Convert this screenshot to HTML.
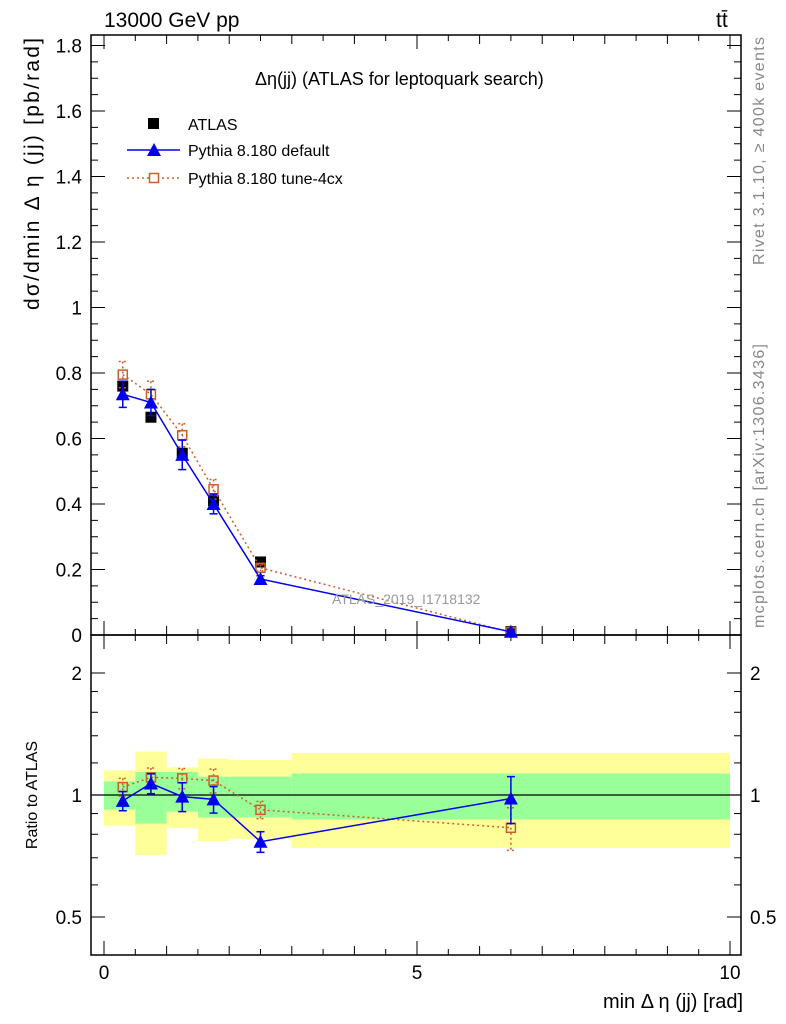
<!DOCTYPE html>
<html><head><meta charset="utf-8"><style>
body{margin:0;background:#fff}
svg{display:block;font-family:"Liberation Sans",sans-serif}
</style></head><body>
<svg id="c" width="786" height="1024" viewBox="0 0 786 1024"></svg>
<script>
const binEdges=[0,0.5,1,1.5,2,3,10];
const xCenters=[0.3,0.75,1.25,1.75,2.5,6.5];
const atlasVals=[0.76,0.665,0.555,0.41,0.223,0.0100];
const defVals=[0.735,0.71,0.55,0.40,0.171,0.0098];
const defErr=[0.04,0.04,0.045,0.03,0.01,0.0013];
const tuneVals=[0.795,0.735,0.61,0.445,0.205,0.0083];
const tuneErr=[0.04,0.04,0.035,0.03,0.01,0.0010];
const bandYelLo=[0.84,0.71,0.83,0.77,0.78,0.74];
const bandYelHi=[1.15,1.28,1.17,1.23,1.22,1.27];
const bandGrnLo=[0.92,0.85,0.91,0.88,0.88,0.87];
const bandGrnHi=[1.08,1.14,1.14,1.11,1.11,1.13];
const mainTicks=[0,0.2,0.4,0.6,0.8,1,1.2,1.4,1.6,1.8];
const mainTickLabels=["0","0.2","0.4","0.6","0.8","1","1.2","1.4","1.6","1.8"];
const xTicks=[0,5,10];

const S=document.getElementById('c'),NS='http://www.w3.org/2000/svg';
function el(t,a,p){const e=document.createElementNS(NS,t);for(const k in a)e.setAttribute(k,a[k]);(p||S).appendChild(e);return e;}
const L=91,R=741,T=35,M=635,B=955;
const X=v=>104+v*62.6;
const Y=v=>635-v*327.5;
const YR=r=>795-122*Math.log2(r);

const gB=el('g',{});
for(let i=0;i<6;i++){
 const x0=X(binEdges[i]),x1=X(binEdges[i+1]);
 let r=el('rect',{x:x0,y:YR(bandYelHi[i]),width:x1-x0,height:YR(bandYelLo[i])-YR(bandYelHi[i]),fill:'#ffff99'},gB);
 
 r=el('rect',{x:x0,y:YR(bandGrnHi[i]),width:x1-x0,height:YR(bandGrnLo[i])-YR(bandGrnHi[i]),fill:'#99ff99'},gB);
 
}
el('line',{x1:L,x2:R,y1:YR(1),y2:YR(1),stroke:'#000','stroke-width':1.2});

let f=el('rect',{x:L,y:T,width:R-L,height:M-T,fill:'none',stroke:'#000','stroke-width':1.5});

f=el('rect',{x:L,y:M,width:R-L,height:B-M,fill:'none',stroke:'#000','stroke-width':1.5});


mainTicks.forEach((v,i)=>{
 const y=Y(v);
 el('line',{x1:L,x2:L+14,y1:y,y2:y,stroke:'#000'});el('line',{x1:R,x2:R-14,y1:y,y2:y,stroke:'#000'});
 const t=el('text',{x:82,y:y+7,'font-size':19,'text-anchor':'end'});t.textContent=mainTickLabels[i];
 
 if(i<mainTicks.length-1)for(let k=1;k<4;k++){const yy=Y(v+k*0.05);el('line',{x1:L,x2:L+7,y1:yy,y2:yy,stroke:'#000'});el('line',{x1:R,x2:R-7,y1:yy,y2:yy,stroke:'#000'});}
});
[0.5,1,2].forEach(r=>{const y=YR(r);el('line',{x1:L,x2:L+14,y1:y,y2:y,stroke:'#000'});el('line',{x1:R,x2:R-14,y1:y,y2:y,stroke:'#000'});
 const t=el('text',{x:82,y:y+7,'font-size':19,'text-anchor':'end'});t.textContent=String(r);
 const t2=el('text',{x:750,y:y+7,'font-size':19});t2.textContent=String(r);});
[0.6,0.7,0.8,0.9,1.2,1.4,1.6,1.8].forEach(r=>{const y=YR(r);el('line',{x1:L,x2:L+7,y1:y,y2:y,stroke:'#000'});el('line',{x1:R,x2:R-7,y1:y,y2:y,stroke:'#000'});});
for(let v=0;v<=10;v+=0.5){const x=X(v),big=v%5===0,h=big?14:(v%1===0?9:6);
 [M,B].forEach(yb=>{el('line',{x1:x,x2:x,y1:yb,y2:yb-h,stroke:'#000'});});
 el('line',{x1:x,x2:x,y1:T,y2:T+h,stroke:'#000'});el('line',{x1:x,x2:x,y1:M,y2:M+h,stroke:'#000'});}
xTicks.forEach(v=>{const t=el('text',{x:X(v),y:979,'font-size':19,'text-anchor':'middle'});t.textContent=String(v);});

function series(vals,errs,ys,col,dash,marker,name){
 const g=el('g',{});
 const pts=vals.map((v,i)=>X(xCenters[i])+','+ys(v,i)).join(' ');
 el('polyline',{points:pts,fill:'none',stroke:col,'stroke-width':1.5,'stroke-dasharray':dash},g);
 vals.forEach((v,i)=>{const x=X(xCenters[i]);
  if(errs){const y1=ys(v+errs[i],i),y2=ys(v-errs[i],i);
   el('line',{x1:x,x2:x,y1:y1,y2:y2,stroke:col,'stroke-width':1.5,'stroke-dasharray':dash},g);
   [y1,y2].forEach(yy=>el('line',{x1:x-4,x2:x+4,y1:yy,y2:yy,stroke:col,'stroke-width':1.5,'stroke-dasharray':dash},g));}
  const y=ys(v,i);let m;
  if(marker==='tri')m=el('polygon',{points:`${x-7},${y+6} ${x+7},${y+6} ${x},${y-7}`,fill:col},g);
  else if(marker==='osq')m=el('rect',{x:x-4.5,y:y-4.5,width:9,height:9,fill:'none',stroke:col,'stroke-width':1.5},g);
  else m=el('rect',{x:x-5.5,y:y-5.5,width:11,height:11,fill:col},g);
  
 });
}
const gA=el('g',{});
atlasVals.forEach((v,i)=>{const m=el('rect',{x:X(xCenters[i])-5.5,y:Y(v)-5.5,width:11,height:11,fill:'#000'},gA);});
series(tuneVals,tuneErr,v=>Y(v),'#c8602a','2,3','osq','tune-4cx-series');
series(defVals,defErr,v=>Y(v),'#0000ee','','tri','default-series');
series(tuneVals,tuneErr,(v,i)=>YR(v/atlasVals[i]),'#c8602a','2,3','osq','tune-4cx-ratio');
series(defVals,defErr,(v,i)=>YR(v/atlasVals[i]),'#0000ee','','tri','default-ratio');

function txt(s,a,name){const t=el('text',a);t.textContent=s;return t;}
txt('13000 GeV pp',{x:104,y:27,'font-size':21},'header-left');
txt('tt̄',{x:716,y:27,'font-size':21},'header-right');
txt('Δη(jj) (ATLAS for leptoquark search)',{x:255,y:85,'font-size':18},'plot-title');
txt('ATLAS_2019_I1718132',{x:332,y:604,'font-size':14,fill:'#999'},'analysis-id');
el('rect',{x:148,y:118,width:11,height:11,fill:'#000'});
txt('ATLAS',{x:188,y:130,'font-size':16},'legend-atlas');
el('line',{x1:127,x2:180,y1:150,y2:150,stroke:'#0000ee','stroke-width':1.5});
el('polygon',{points:'147,156 161,156 154,143',fill:'#0000ee'});
txt('Pythia 8.180 default',{x:188,y:156,'font-size':16},'legend-default');
el('line',{x1:127,x2:180,y1:178,y2:178,stroke:'#c8602a','stroke-width':1.5,'stroke-dasharray':'2,3'});
el('rect',{x:149.5,y:173.5,width:9,height:9,fill:'#fff',stroke:'#c8602a','stroke-width':1.5});
txt('Pythia 8.180 tune-4cx',{x:188,y:184,'font-size':16},'legend-tune');
txt('dσ/dmin Δ η (jj) [pb/rad]',{x:0,y:0,'font-size':21,'textLength':272,'text-anchor':'end',transform:'translate(39,38) rotate(-90)'},'y-axis-title');
txt('Ratio to ATLAS',{x:0,y:0,'font-size':16,'text-anchor':'middle',transform:'translate(37,795) rotate(-90)'},'ratio-axis-title');
txt('min Δ η (jj) [rad]',{x:743,y:1008,'font-size':20,'text-anchor':'end'},'x-axis-title');
txt('Rivet 3.1.10, ≥ 400k events',{x:0,y:0,'font-size':16,'textLength':228,fill:'#888','text-anchor':'end',transform:'translate(764,37) rotate(-90)'},'rivet-label');
txt('mcplots.cern.ch [arXiv:1306.3436]',{x:0,y:0,'font-size':16,'textLength':284,fill:'#888','text-anchor':'end',transform:'translate(764,344) rotate(-90)'},'mcplots-label');
</script>
</body></html>
